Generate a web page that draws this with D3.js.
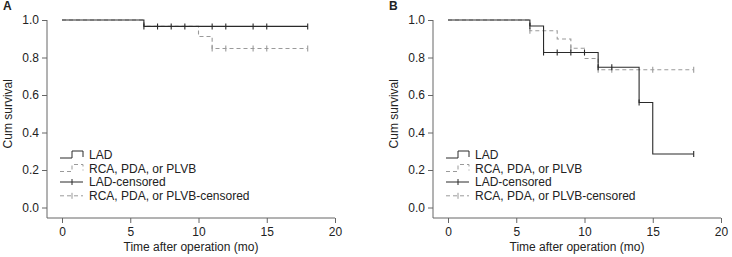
<!DOCTYPE html>
<html>
<head>
<meta charset="utf-8">
<script src="https://cdn.jsdelivr.net/npm/d3@7"></script>
<style>
  body { margin: 0; background: #fff; }
  text { font-family: "Liberation Sans", Arial, sans-serif; fill: #222; }
</style>
</head>
<body>
<div id="viz"></div>
<script>
// axis ticks
const timeTicks = [0, 5, 10, 15, 20]
const survTicks = [0, 0.2, 0.4, 0.6, 0.8, 1.0]

// panel A: step times / survival after each step, censor times, last follow-up
const aLadTimes = [0, 6]
const aLadSurv = [1, 0.966]
const aLadCensor = [6, 7, 8, 9, 11, 12, 14, 15, 18]
const aRcaTimes = [0, 6, 10, 11]
const aRcaSurv = [1, 0.966, 0.912, 0.848]
const aRcaCensor = [11, 12, 14, 15, 18]

// panel B
const bLadTimes = [0, 6, 7, 11, 14, 15]
const bLadSurv = [1, 0.968, 0.827, 0.748, 0.56, 0.285]
const bLadCensor = [6, 7, 8, 9, 10, 11, 12, 14, 18]
const bRcaTimes = [0, 6, 8, 9, 10, 11]
const bRcaSurv = [1, 0.943, 0.899, 0.849, 0.795, 0.735]
const bRcaCensor = [6, 9, 11, 12, 15, 18]

const lastTime = 18

const legendLabels = ["LAD", "RCA, PDA, or PLVB", "LAD-censored", "RCA, PDA, or PLVB-censored"]

const width = 732
const height = 257
const solidColor = "#2a2a2a"
const dashColor = "#9a9a9a"
const axisColor = "#666"
const dash = "4,3"

const svg = d3.select("#viz").append("svg")
    .attr("width", width)
    .attr("height", height)

function drawPanel(offset, letter, lad, rca) {
    const g = svg.append("g").attr("transform", `translate(${offset},0)`)

    const x = d3.scaleLinear().domain([0, 20]).range([62, 335])
    const y = d3.scaleLinear().domain([0, 1]).range([207.5, 20])
    const axisX = 47, axisY = 218

    // axes lines
    g.append("path")
        .attr("d", `M${axisX},${y(1)}V${axisY}H${x(20)}`)
        .attr("fill", "none").attr("stroke", axisColor)

    const xAxis = g.append("g").attr("transform", `translate(0,${axisY})`)
        .call(d3.axisBottom(x).tickValues(timeTicks).tickSize(5).tickPadding(4).tickFormat(d3.format("d")))
    const yAxis = g.append("g").attr("transform", `translate(${axisX},0)`)
        .call(d3.axisLeft(y).tickValues(survTicks).tickSize(5).tickPadding(3).tickFormat(d3.format(".1f")))
    for (const ax of [xAxis, yAxis]) {
        ax.select(".domain").remove()
        ax.selectAll("line").attr("stroke", axisColor)
        ax.selectAll("text").attr("font-size", 12).attr("fill", "#222")
            .attr("font-family", "Liberation Sans, Arial, sans-serif")
    }

    g.append("text").attr("x", (axisX + x(20)) / 2).attr("y", 251)
        .attr("text-anchor", "middle").attr("font-size", 12)
        .text("Time after operation (mo)")
    g.append("text")
        .attr("transform", `translate(12,${y(0.5)}) rotate(-90)`)
        .attr("text-anchor", "middle").attr("font-size", 12)
        .text("Cum survival")
    g.append("text").attr("x", 3).attr("y", 10)
        .attr("font-size", 12).attr("font-weight", "bold")
        .text(letter)

    const line = d3.line().x(d => x(d[0])).y(d => y(d[1])).curve(d3.curveStepAfter)

    function curve(times, surv, censor, color, dashed) {
        const pts = times.map((t, i) => [t, surv[i]])
        pts.push([lastTime, surv[surv.length - 1]])
        g.append("path").attr("d", line(pts))
            .attr("fill", "none").attr("stroke", color).attr("stroke-width", 1.1)
            .attr("stroke-dasharray", dashed ? dash : null)
        const at = t => surv[d3.bisectRight(times, t) - 1]
        g.selectAll(null).data(censor).enter().append("line")
            .attr("x1", d => x(d)).attr("x2", d => x(d))
            .attr("y1", d => y(at(d)) - 3).attr("y2", d => y(at(d)) + 3)
            .attr("stroke", color).attr("stroke-width", 1.1)
    }

    curve(rca.times, rca.surv, rca.censor, dashColor, true)
    curve(lad.times, lad.surv, lad.censor, solidColor, false)

    // legend
    const lx = 60, rows = [159, 172.5, 186, 199.8]
    const lg = g.append("g")
    const stepShape = b => `M${lx},${b - 1}H${lx + 12}V${b - 8}H${lx + 23}V${b - 2}`
    lg.append("path").attr("d", stepShape(rows[0])).attr("fill", "none").attr("stroke", solidColor)
    lg.append("path").attr("d", stepShape(rows[1])).attr("fill", "none").attr("stroke", dashColor)
        .attr("stroke-dasharray", dash)
    ;[[rows[2], solidColor, null], [rows[3], dashColor, dash]].forEach(([b, c, da]) => {
        lg.append("line").attr("x1", lx).attr("x2", lx + 23).attr("y1", b - 4).attr("y2", b - 4)
            .attr("stroke", c).attr("stroke-dasharray", da)
        lg.append("line").attr("x1", lx + 12).attr("x2", lx + 12).attr("y1", b - 7).attr("y2", b - 1)
            .attr("stroke", c)
    })
    lg.selectAll("text").data(legendLabels).enter().append("text")
        .attr("x", 89).attr("y", (d, i) => rows[i])
        .attr("font-size", 12).text(d => d)
}

drawPanel(0, "A",
    { times: aLadTimes, surv: aLadSurv, censor: aLadCensor },
    { times: aRcaTimes, surv: aRcaSurv, censor: aRcaCensor })
drawPanel(386, "B",
    { times: bLadTimes, surv: bLadSurv, censor: bLadCensor },
    { times: bRcaTimes, surv: bRcaSurv, censor: bRcaCensor })
</script>
</body>
</html>
